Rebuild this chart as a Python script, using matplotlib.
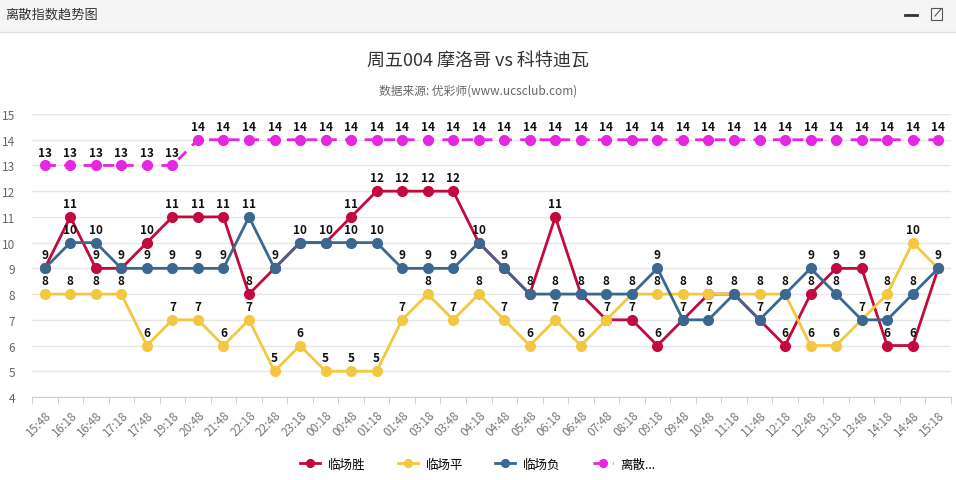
import matplotlib
matplotlib.use("Agg")
from matplotlib import pyplot as plt
from matplotlib.lines import Line2D
from matplotlib.patches import Rectangle

plt.rcParams['font.family'] = ['Noto Sans CJK SC', 'DejaVu Sans']

times = ["15:48", "16:18", "16:48", "17:18", "17:48", "19:18", "20:48", "21:48",
         "22:18", "22:48", "23:18", "00:18", "00:48", "01:18", "01:48", "03:18",
         "03:48", "04:18", "04:48", "05:48", "06:18", "06:48", "07:48", "08:18",
         "09:18", "09:48", "10:48", "11:18", "11:48", "12:18", "12:48", "13:18",
         "13:48", "14:18", "14:48", "15:18"]

win = [9, 11, 9, 9, 10, 11, 11, 11, 8, 9, 10, 10, 11, 12, 12, 12, 12, 10,
       9, 8, 11, 8, 7, 7, 6, 7, 8, 8, 7, 6, 8, 9, 9, 6, 6, 9]
draw = [8, 8, 8, 8, 6, 7, 7, 6, 7, 5, 6, 5, 5, 5, 7, 8, 7, 8,
        7, 6, 7, 6, 7, 8, 8, 8, 8, 8, 8, 8, 6, 6, 7, 8, 10, 9]
lose = [9, 10, 10, 9, 9, 9, 9, 9, 11, 9, 10, 10, 10, 10, 9, 9, 9, 10,
        9, 8, 8, 8, 8, 8, 9, 7, 7, 8, 7, 8, 9, 8, 7, 7, 8, 9]
spread = [13] * 6 + [14] * 30

series = [
    ("临场胜", win, "#c20a3e", "-"),
    ("临场平", draw, "#f4c740", "-"),
    ("临场负", lose, "#3a6890", "-"),
    ("离散...", spread, "#e626e0", (0, (4, 3))),
]

fig = plt.figure(figsize=(9.56, 4.81), dpi=100)

# header bar
fig.patches.append(Rectangle((0, 1 - 33 / 481), 1, 33 / 481, transform=fig.transFigure,
                             facecolor="#f5f5f5", edgecolor="none", zorder=0))
fig.lines.append(Line2D([0, 1], [1 - 33 / 481] * 2, transform=fig.transFigure,
                        color="#e2e2e2", lw=1))
fig.text(5 / 956, 1 - 15 / 481, "离散指数趋势图", fontsize=9.5, color="#333333",
         va="center", ha="left")
fig.lines.append(Line2D([905 / 956, 917 / 956], [1 - 16 / 481] * 2,
                        transform=fig.transFigure, color="#333333", lw=2))
fig.patches.append(Rectangle((931 / 956, 1 - 21 / 481), 11 / 956, 12 / 481,
                             transform=fig.transFigure, facecolor="none",
                             edgecolor="#555555", lw=0.8))
fig.lines.append(Line2D([935 / 956, 941 / 956], [1 - 17 / 481, 1 - 10 / 481],
                        transform=fig.transFigure, color="#555555", lw=0.8))

fig.text(0.5, 1 - 62 / 481, "周五004 摩洛哥 vs 科特迪瓦", fontsize=13, color="#333333",
         ha="center", va="center")
fig.text(0.5, 1 - 91 / 481, "数据来源: 优彩师(www.ucsclub.com)", fontsize=8.5,
         color="#666666", ha="center", va="center")

ax = fig.add_axes([32 / 956, 1 - 398 / 481, (951 - 32) / 956, (398 - 115) / 481])
x = list(range(len(times)))

handles = []
seen = set()  # same value at same time -> one label only
for name, vals, color, ls in series:
    h, = ax.plot(x, vals, color=color, lw=2, ls=ls, marker="o", markersize=7,
                 markeredgecolor=color, label=name, zorder=3)
    handles.append(h)
    for xi, v in zip(x, vals):
        if (xi, v) in seen:
            continue
        seen.add((xi, v))
        ax.annotate(str(v), (xi, v), xytext=(0, 5), textcoords="offset points",
                    ha="center", va="bottom", fontsize=8.5, fontweight="bold",
                    color="#111111", zorder=5)

ax.set_xlim(-0.5, len(times) - 0.5)
ax.set_ylim(4, 15)
ax.set_yticks(range(4, 16))
ax.grid(axis="y", color="#e6e6e6", lw=1)
ax.set_axisbelow(True)

ax.set_xticks(x)
ax.set_xticklabels(times, rotation=45, ha="right", rotation_mode="anchor",
                   fontsize=8.5, color="#777777")
ax.set_xticks([i - 0.5 for i in range(len(times) + 1)], minor=True)
ax.tick_params(axis="x", which="major", length=0, pad=8)
ax.tick_params(axis="x", which="minor", length=5, color="#c6cdd8")
ax.tick_params(axis="y", length=0, labelsize=8.5, labelcolor="#666666", pad=12)

for side in ["top", "right", "left"]:
    ax.spines[side].set_visible(False)
ax.spines["bottom"].set_color("#c6cdd8")

fig.legend(handles=handles, loc="center", bbox_to_anchor=(0.5, 1 - 465 / 481),
           ncol=4, frameon=False, fontsize=9, handlelength=1.6, columnspacing=2.6,
           handletextpad=0.6, markerscale=0.8)

fig.savefig("out.png", dpi=100)
